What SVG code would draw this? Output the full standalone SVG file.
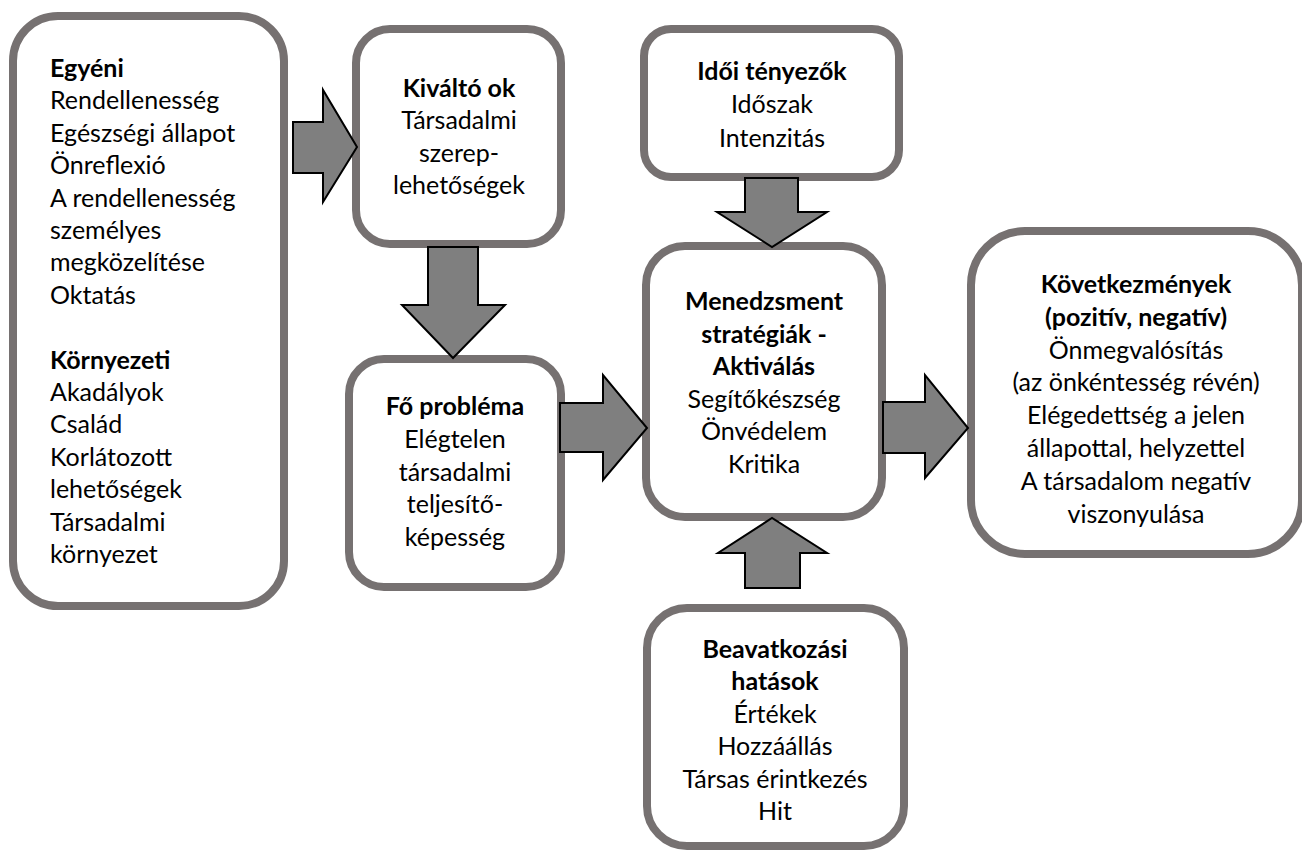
<svg xmlns="http://www.w3.org/2000/svg" width="1302" height="850" viewBox="0 0 1302 850">
<style>
.box{fill:#fff;stroke:#767171;stroke-width:8}
.arr{fill:#7f7f7f;stroke:#000;stroke-width:2;stroke-linejoin:miter}
text{font-family:Lato,"Open Sans","Liberation Sans",sans-serif;font-size:25px;fill:#000}
.b{font-weight:bold}
.c{text-anchor:middle}
</style>
<rect width="1302" height="850" fill="#fff"/>
<g id="node-egyeni">
<rect class="box" x="13" y="16" width="271" height="590" rx="45" ry="45"/>
<text x="50" y="77"><tspan class="b">Egyéni</tspan><tspan x="50" dy="32.4">Rendellenesség</tspan><tspan x="50" dy="32.4">Egészségi állapot</tspan><tspan x="50" dy="32.4">Önreflexió</tspan><tspan x="50" dy="32.4">A rendellenesség</tspan><tspan x="50" dy="32.4">személyes</tspan><tspan x="50" dy="32.4">megközelítése</tspan><tspan x="50" dy="32.4">Oktatás</tspan><tspan x="50" dy="64.8" class="b">Környezeti</tspan><tspan x="50" dy="32.4">Akadályok</tspan><tspan x="50" dy="32.4">Család</tspan><tspan x="50" dy="32.4">Korlátozott</tspan><tspan x="50" dy="32.4">lehetőségek</tspan><tspan x="50" dy="32.4">Társadalmi</tspan><tspan x="50" dy="32.4">környezet</tspan></text>
</g>
<g id="node-kivalto">
<rect class="box" x="356" y="29" width="205" height="215" rx="34" ry="34"/>
<text class="c" x="459" y="97"><tspan class="b">Kiváltó ok</tspan><tspan x="459" dy="32.4">Társadalmi</tspan><tspan x="459" dy="32.4">szerep-</tspan><tspan x="459" dy="32.4">lehetőségek</tspan></text>
</g>
<g id="node-fo">
<rect class="box" x="349" y="359" width="212" height="228" rx="35" ry="35"/>
<text class="c" x="455" y="415"><tspan class="b">Fő probléma</tspan><tspan x="455" dy="32.8">Elégtelen</tspan><tspan x="455" dy="32.8">társadalmi</tspan><tspan x="455" dy="32.8">teljesítő-</tspan><tspan x="455" dy="32.8">képesség</tspan></text>
</g>
<g id="node-idoi">
<rect class="box" x="644" y="29" width="255" height="148" rx="27" ry="27"/>
<text class="c" x="772" y="80"><tspan class="b">Idői tényezők</tspan><tspan x="772" dy="33.4">Időszak</tspan><tspan x="772" dy="33.4">Intenzitás</tspan></text>
</g>
<g id="node-menedzsment">
<rect class="box" x="646" y="246" width="236" height="271" rx="39" ry="39"/>
<text class="c" x="764" y="310"><tspan class="b">Menedzsment</tspan><tspan x="764" dy="32.6" class="b">stratégiák -</tspan><tspan x="764" dy="32.6" class="b">Aktiválás</tspan><tspan x="764" dy="32.6">Segítőkészség</tspan><tspan x="764" dy="32.6">Önvédelem</tspan><tspan x="764" dy="32.6">Kritika</tspan></text>
</g>
<g id="node-beavatkozasi">
<rect class="box" x="647" y="608" width="257" height="238" rx="40" ry="40"/>
<text class="c" x="775" y="658"><tspan class="b">Beavatkozási</tspan><tspan x="775" dy="32.4" class="b">hatások</tspan><tspan x="775" dy="32.4">Értékek</tspan><tspan x="775" dy="32.4">Hozzáállás</tspan><tspan x="775" dy="32.4">Társas érintkezés</tspan><tspan x="775" dy="32.4">Hit</tspan></text>
</g>
<g id="node-kovetkezmenyek">
<rect class="box" x="971" y="231" width="331" height="323" rx="54" ry="54"/>
<text class="c" x="1136" y="293"><tspan class="b">Következmények</tspan><tspan x="1136" dy="32.8" class="b">(pozitív, negatív)</tspan><tspan x="1136" dy="32.8">Önmegvalósítás</tspan><tspan x="1136" dy="32.8">(az önkéntesség révén)</tspan><tspan x="1136" dy="32.8">Elégedettség a jelen</tspan><tspan x="1136" dy="32.8">állapottal, helyzettel</tspan><tspan x="1136" dy="32.8">A társadalom negatív</tspan><tspan x="1136" dy="32.8">viszonyulása</tspan></text>
</g>
<g id="connectors">
<polygon class="arr" points="293,122 323,122 323,90 357,147 323,202 323,173 293,173"/>
<polygon class="arr" points="428,247 478,247 478,305 505,305 453,358 402,305 428,305"/>
<polygon class="arr" points="560,403 603,403 603,375 647,428 603,480 603,452 560,452"/>
<polygon class="arr" points="745,178 798,178 798,212 827,212 772,247 717,212 745,212"/>
<polygon class="arr" points="883,402 925,402 925,375 968,428 925,478 925,453 883,453"/>
<polygon class="arr" points="745,588 800,588 800,553 827,553 772,518 718,553 745,553"/>
</g>
</svg>
